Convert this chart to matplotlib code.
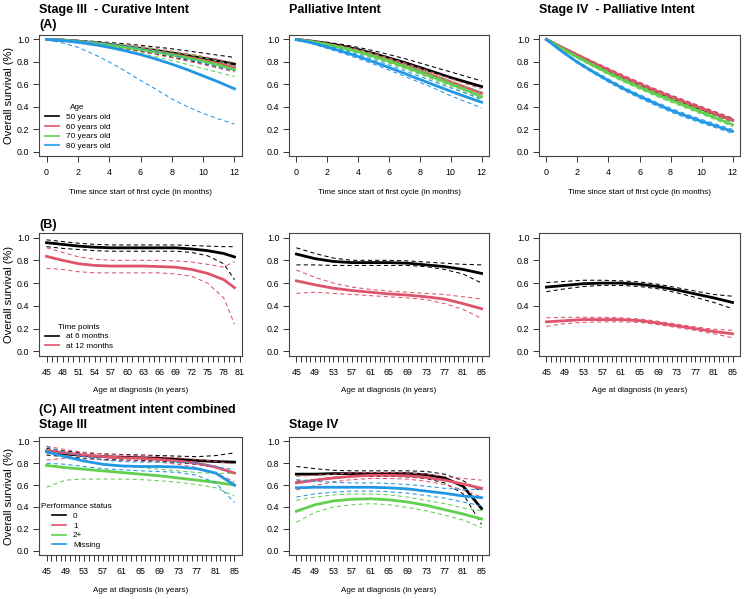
import numpy as np
import matplotlib
matplotlib.use("Agg")
import matplotlib.pyplot as plt

plt.rcParams['font.family'] = ['Liberation Sans', 'DejaVu Sans']

# R 4.0 palette
BLACK, RED, GREEN, BLUE = "black", "#DF536B", "#61D04F", "#2297E6"

##################
# (A) survival vs time since first cycle
months = [0, 1, 2, 3, 4, 5, 6, 7, 8, 9, 10, 11, 12]
age_labels = ["50 years old", "60 years old", "70 years old", "80 years old"]

# Stage III curative: est, upper, lower per age group
cur_50 = [1, .995, .985, .972, .957, .94, .922, .902, .88, .857, .833, .808, .78]
cur_50_hi = [1, .998, .992, .984, .974, .962, .948, .933, .917, .898, .879, .859, .84]
cur_50_lo = [1, .992, .978, .96, .94, .918, .895, .87, .843, .815, .785, .753, .72]
cur_60 = [1, .995, .983, .969, .953, .935, .915, .893, .869, .843, .815, .784, .75]
cur_60_hi = [1, .997, .989, .979, .967, .953, .937, .918, .897, .874, .849, .82, .79]
cur_60_lo = [1, .992, .976, .958, .938, .916, .891, .865, .837, .808, .776, .743, .71]
cur_70 = [1, .994, .982, .967, .95, .931, .91, .887, .862, .835, .806, .771, .73]
cur_70_hi = [1, .997, .989, .978, .965, .95, .932, .912, .89, .865, .838, .805, .77]
cur_70_lo = [1, .99, .973, .953, .93, .904, .876, .845, .812, .777, .74, .705, .67]
cur_80 = [1, .99, .975, .955, .93, .9, .865, .825, .78, .73, .675, .62, .56]
cur_80_hi = [1, .998, .99, .978, .962, .942, .918, .89, .86, .827, .79, .752, .72]
cur_80_lo = [1, .97, .93, .87, .8, .72, .635, .555, .47, .4, .34, .29, .245]

# Palliative
pal_50 = [1, .985, .965, .94, .91, .875, .835, .795, .75, .705, .66, .62, .58]
pal_50_hi = [1, .99, .975, .955, .93, .9, .865, .83, .79, .75, .71, .67, .63]
pal_50_lo = [1, .98, .955, .925, .89, .85, .805, .76, .71, .66, .615, .57, .53]
pal_60 = [1, .982, .958, .93, .897, .858, .815, .77, .722, .672, .622, .572, .52]
pal_60_hi = [1, .986, .966, .941, .911, .875, .835, .792, .746, .698, .65, .603, .56]
pal_60_lo = [1, .977, .95, .918, .882, .84, .795, .748, .698, .646, .594, .537, .48]
pal_70 = [1, .98, .955, .925, .89, .85, .806, .758, .708, .656, .603, .547, .49]
pal_70_hi = [1, .984, .963, .936, .904, .866, .824, .779, .73, .68, .628, .578, .53]
pal_70_lo = [1, .976, .947, .914, .876, .834, .788, .739, .688, .634, .579, .52, .46]
pal_80 = [1, .97, .932, .892, .848, .8, .75, .697, .643, .59, .538, .488, .44]
pal_80_hi = [1, .976, .943, .906, .865, .82, .772, .722, .67, .618, .567, .518, .47]
pal_80_lo = [1, .963, .92, .876, .83, .78, .727, .672, .616, .56, .497, .443, .39]

# Stage IV palliative
s4_50 = [1, .927, .857, .788, .722, .658, .598, .54, .485, .432, .38, .33, .28]
s4_60 = [1, .93, .861, .793, .728, .664, .603, .545, .49, .437, .385, .333, .28]
s4_70 = [1, .918, .842, .769, .7, .634, .573, .514, .459, .405, .35, .295, .24]
s4_80 = [1, .893, .797, .712, .633, .559, .493, .43, .37, .318, .27, .225, .18]
s4_ci = [0, .006, .01, .012, .014, .015, .016, .016, .017, .017, .017, .017, .017]

##################
# (B) survival at 6 / 12 months by age at diagnosis
ages_b1 = [45, 48, 51, 54, 57, 60, 63, 66, 69, 72, 75, 78, 80]
b1_6m = [.955, .94, .925, .915, .91, .91, .91, .91, .91, .9, .885, .86, .83]
b1_6m_hi = [.98, .965, .95, .94, .935, .935, .935, .935, .935, .93, .925, .92, .92]
b1_6m_lo = [.92, .905, .895, .885, .88, .88, .88, .88, .88, .87, .84, .77, .63]
b1_12m = [.835, .8, .77, .755, .75, .75, .75, .745, .74, .72, .685, .63, .56]
b1_12m_hi = [.91, .87, .83, .81, .8, .8, .8, .8, .795, .785, .765, .74, .79]
b1_12m_lo = [.73, .72, .7, .69, .69, .69, .69, .69, .68, .66, .6, .47, .24]

ages = [45, 49, 53, 57, 61, 65, 69, 73, 77, 81, 85]
b2_6m = [.855, .815, .79, .78, .78, .78, .775, .76, .745, .72, .685]
b2_6m_hi = [.91, .86, .82, .8, .8, .8, .795, .785, .775, .765, .76]
b2_6m_lo = [.76, .76, .755, .755, .755, .755, .755, .745, .72, .68, .6]
b2_12m = [.62, .585, .555, .535, .52, .505, .495, .48, .46, .42, .375]
b2_12m_hi = [.715, .65, .6, .565, .545, .53, .52, .51, .5, .48, .46]
b2_12m_lo = [.51, .52, .51, .5, .49, .48, .47, .455, .42, .37, .29]

b3_6m = [.565, .58, .595, .6, .6, .59, .57, .54, .505, .47, .43]
b3_6m_hi = [.605, .615, .625, .625, .62, .61, .59, .56, .53, .5, .485]
b3_6m_lo = [.525, .55, .57, .58, .58, .57, .55, .515, .475, .43, .375]
b3_12m = [.26, .27, .28, .28, .28, .27, .25, .225, .2, .175, .155]
b3_12m_hi = [.295, .3, .3, .3, .295, .285, .265, .24, .215, .195, .185]
b3_12m_lo = [.22, .245, .255, .26, .26, .255, .235, .21, .185, .155, .12]

##################
# (C) all intents combined, by performance status
ps_labels = ["0", "1", "2+", "Missing"]
c1_ps0 = [.905, .885, .87, .86, .855, .85, .845, .835, .825, .815, .81]
c1_ps0_hi = [.935, .91, .895, .885, .88, .875, .87, .865, .86, .87, .895]
c1_ps0_lo = [.875, .86, .845, .835, .83, .825, .82, .805, .79, .76, .7]
c1_ps1 = [.915, .895, .875, .86, .85, .845, .835, .82, .8, .765, .71]
c1_ps1_hi = [.955, .925, .9, .885, .875, .87, .86, .85, .835, .815, .795]
c1_ps1_lo = [.83, .845, .84, .83, .825, .82, .81, .79, .76, .71, .63]
c1_ps2 = [.78, .76, .745, .73, .715, .7, .685, .665, .645, .625, .6]
c1_ps2_hi = [.91, .86, .82, .795, .775, .76, .745, .73, .715, .705, .71]
c1_ps2_lo = [.58, .645, .655, .655, .655, .65, .64, .625, .605, .575, .5]
c1_psm = [.905, .86, .82, .79, .775, .77, .77, .765, .75, .71, .6]
c1_psm_hi = [.95, .9, .86, .83, .815, .81, .81, .81, .8, .77, .74]
c1_psm_lo = [.8, .79, .77, .75, .74, .73, .725, .715, .69, .62, .44]

c2_ps0 = [.7, .7, .705, .705, .705, .705, .705, .695, .665, .59, .385]
c2_ps0_hi = [.77, .75, .735, .73, .73, .73, .73, .725, .7, .64, .54]
c2_ps0_lo = [.635, .65, .67, .68, .68, .68, .675, .66, .62, .52, .24]
c2_ps1 = [.62, .645, .665, .68, .69, .69, .685, .67, .645, .61, .57]
c2_ps1_hi = [.68, .69, .7, .71, .715, .715, .71, .7, .68, .66, .645]
c2_ps1_lo = [.555, .595, .63, .65, .66, .66, .655, .635, .605, .555, .49]
c2_ps2 = [.36, .42, .455, .47, .475, .465, .445, .415, .375, .335, .29]
c2_ps2_hi = [.46, .49, .51, .52, .52, .51, .49, .46, .43, .39, .365]
c2_ps2_lo = [.26, .35, .4, .42, .43, .42, .395, .365, .325, .28, .21]
c2_psm = [.575, .58, .58, .58, .58, .575, .565, .545, .525, .5, .485]
c2_psm_hi = [.65, .635, .625, .62, .62, .615, .605, .59, .57, .56, .56]
c2_psm_lo = [.49, .52, .535, .545, .545, .54, .525, .505, .48, .445, .41]
##################

W, H = 745.0, 599.0
fig = plt.figure(figsize=(W / 100, H / 100), dpi=100)

cols = [(39, 242), (289, 489), (539, 740)]
rows = [(35, 156), (233, 356), (437, 555)]
TICK_FS = 6.4


def make_ax(r, c):
    x0, x1 = cols[c]
    y0, y1 = rows[r]
    ax = fig.add_axes([x0 / W, 1 - y1 / H, (x1 - x0) / W, (y1 - y0) / H])
    for s in ax.spines.values():
        s.set_linewidth(0.8)
        s.set_color("#444444")
    ax.set_ylim(-0.04, 1.04)
    ax.set_yticks([0, .2, .4, .6, .8, 1.0])
    ax.set_yticklabels(["0.0", "0.2", "0.4", "0.6", "0.8", "1.0"])
    ax.tick_params(length=4.3, width=0.7, labelsize=TICK_FS, color="#333333")
    ax.tick_params(axis="x", pad=4)
    ax.tick_params(axis="y", pad=2.5)
    return ax


def curve(ax, x, est, hi, lo, col):
    ax.plot(x, hi, color=col, lw=0.75, ls=(0, (4, 3)))
    ax.plot(x, lo, color=col, lw=0.75, ls=(0, (4, 3)))
    ax.plot(x, est, color=col, lw=2.0)


def fig_text(x, y, s, **kw):
    fig.text(x / W, 1 - y / H, s, **kw)


def legend(ax, labels, colors, title, anchor):
    hs = [plt.Line2D([], [], color=c, lw=1.2) for c in colors]
    leg = ax.legend(hs, labels, title=title, loc="lower left", bbox_to_anchor=anchor,
                    frameon=False, fontsize=5.9, title_fontsize=5.9, handlelength=1.7,
                    handletextpad=0.9, labelspacing=0.25, borderpad=0.2)
    return leg


def age_axis(ax, lo, hi, last, step):
    ticks = list(range(lo, last + 1))
    ax.set_xlim(lo - (hi - lo) * 0.04, hi + (hi - lo) * 0.04)
    ax.set_xticks(ticks)
    ax.set_xticklabels([str(t) if (t - lo) % step == 0 else "" for t in ticks])


four = [BLACK, RED, GREEN, BLUE]

# Row A
a_sets = [
    [(cur_50, cur_50_hi, cur_50_lo), (cur_60, cur_60_hi, cur_60_lo),
     (cur_70, cur_70_hi, cur_70_lo), (cur_80, cur_80_hi, cur_80_lo)],
    [(pal_50, pal_50_hi, pal_50_lo), (pal_60, pal_60_hi, pal_60_lo),
     (pal_70, pal_70_hi, pal_70_lo), (pal_80, pal_80_hi, pal_80_lo)],
]
s4 = [s4_50, s4_60, s4_70, s4_80]
a_sets.append([(e, list(np.add(e, s4_ci)), list(np.subtract(e, s4_ci))) for e in s4])

for c in range(3):
    ax = make_ax(0, c)
    for (e, h, l), col in zip(a_sets[c], four):
        curve(ax, months, e, h, l, col)
    ax.set_xlim(-0.48, 12.48)
    ax.set_xticks(range(0, 13, 2))
    if c == 0:
        legend(ax, age_labels, four, "Age", (0.0, 0.0))
    fig_text((cols[c][0] + cols[c][1]) / 2, 192, "Time since start of first cycle (in months)",
             ha="center", va="center", fontsize=5.8)

# Row B
ax = make_ax(1, 0)
curve(ax, ages_b1, b1_6m, b1_6m_hi, b1_6m_lo, BLACK)
curve(ax, ages_b1, b1_12m, b1_12m_hi, b1_12m_lo, RED)
age_axis(ax, 45, 80, 81, 3)
legend(ax, ["at 6 months", "at 12 months"], [BLACK, RED], "Time points", (0.0, 0.0))

ax = make_ax(1, 1)
curve(ax, ages, b2_6m, b2_6m_hi, b2_6m_lo, BLACK)
curve(ax, ages, b2_12m, b2_12m_hi, b2_12m_lo, RED)
age_axis(ax, 45, 85, 85, 4)

ax = make_ax(1, 2)
curve(ax, ages, b3_6m, b3_6m_hi, b3_6m_lo, BLACK)
curve(ax, ages, b3_12m, b3_12m_hi, b3_12m_lo, RED)
age_axis(ax, 45, 85, 85, 4)

for c in range(3):
    fig_text((cols[c][0] + cols[c][1]) / 2, 391, "Age at diagnosis (in years)",
             ha="center", va="center", fontsize=5.8)

# Row C
c_sets = [
    [(c1_ps0, c1_ps0_hi, c1_ps0_lo), (c1_ps1, c1_ps1_hi, c1_ps1_lo),
     (c1_ps2, c1_ps2_hi, c1_ps2_lo), (c1_psm, c1_psm_hi, c1_psm_lo)],
    [(c2_ps0, c2_ps0_hi, c2_ps0_lo), (c2_ps1, c2_ps1_hi, c2_ps1_lo),
     (c2_ps2, c2_ps2_hi, c2_ps2_lo), (c2_psm, c2_psm_hi, c2_psm_lo)],
]
for c in range(2):
    ax = make_ax(2, c)
    for (e, h, l), col in zip(c_sets[c], four):
        curve(ax, ages, e, h, l, col)
    age_axis(ax, 45, 85, 85, 4)
    if c == 0:
        legend(ax, ps_labels, four, "Performance status", (-0.02, 0.0))
    fig_text((cols[c][0] + cols[c][1]) / 2, 591, "Age at diagnosis (in years)",
             ha="center", va="center", fontsize=5.8)

# Titles
tkw = dict(fontsize=9.0, fontweight="bold", va="top", ha="left")
fig_text(39, 4, "Stage III  - Curative Intent", **tkw)
fig_text(39, 19, "(A)", **tkw)
fig_text(289, 4, "Palliative Intent", **tkw)
fig_text(539, 4, "Stage IV  - Palliative Intent", **tkw)
fig_text(39, 219, "(B)", **tkw)
fig_text(39, 404, "(C) All treatment intent combined", **tkw)
fig_text(39, 419, "Stage III", **tkw)
fig_text(289, 419, "Stage IV", **tkw)

# y labels on left column
for r in range(3):
    y0, y1 = rows[r]
    fig_text(9, (y0 + y1) / 2, "Overall survival (%)", rotation=90,
             ha="center", va="center", fontsize=8)

fig.savefig("out.png", dpi=100)
